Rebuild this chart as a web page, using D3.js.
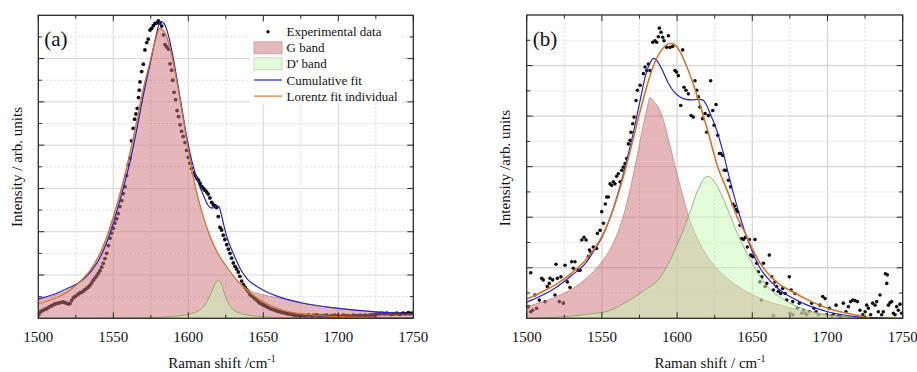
<!DOCTYPE html>
<html>
<head>
<meta charset="utf-8">
<script src="https://cdn.jsdelivr.net/npm/d3@7"></script>
<style>
  body { margin: 0; background: #fff; }
</style>
</head>
<body>
<svg id="chart" width="917" height="372" font-family="'Liberation Serif', 'DejaVu Serif', serif"></svg>
<script>
// ---- shared axis values ----
const xTicks = [1500, 1550, 1600, 1650, 1700, 1750];
const xMinorTicks = [1525, 1575, 1625, 1675, 1725];

// ---- panel (a): experimental points [shift, intensity] ----
const aPoints = [
  [1500.3,0.08],[1501.2,0.14],[1502.3,0.17],[1503.4,0.19],[1504.5,0.21],[1505.6,0.22],[1506.7,0.25],[1507.8,0.27],
  [1508.9,0.29],[1510,0.31],[1511.1,0.33],[1512.2,0.34],[1513.3,0.35],[1514.4,0.36],[1515.6,0.37],[1516.7,0.38],
  [1517.8,0.36],[1518.9,0.35],[1520,0.33],[1521.1,0.34],[1522.2,0.41],[1523.3,0.47],[1524.4,0.5],[1525.6,0.53],
  [1526.7,0.56],[1527.8,0.59],[1528.9,0.6],[1530,0.63],[1531.1,0.66],[1532.2,0.69],[1533.3,0.72],[1534.4,0.76],
  [1535.6,0.82],[1536.7,0.88],[1537.8,0.93],[1538.9,0.98],[1540,1.04],[1541.1,1.1],[1542.2,1.18],[1543.3,1.27],
  [1544.4,1.38],[1545.6,1.5],[1546.7,1.68],[1547.8,1.85],[1548.9,1.97],[1550,2.08],[1551.1,2.2],[1552.2,2.3],
  [1553.3,2.42],[1554.4,2.58],[1555.6,2.72],[1556.7,2.88],[1557.8,3.04],[1558.9,3.3],[1560,3.55],[1561.1,3.7],
  [1562.2,4.1],[1563.3,4.39],[1564.2,4.6],[1565.1,4.72],[1566,4.85],[1566.8,5.1],[1567.3,5.27],[1567.8,5.46],
  [1568.9,5.7],[1570,5.87],[1571.1,6.2],[1572.3,6.37],[1573.3,6.45],[1574.5,6.66],[1575.6,6.7],[1576.7,6.76],
  [1577.8,6.81],[1578.9,6.82],[1580,6.87],[1581.1,6.82],[1582.3,6.75],[1583.4,6.55],[1584.5,6.32],[1585.6,6.27],
  [1586.7,6.22],[1587.8,5.88],[1588.9,5.73],[1589.6,5.5],[1590.5,5.22],[1591.5,5.05],[1592.5,4.8],[1593.5,4.66],
  [1594.5,4.47],[1595.5,4.32],[1596.6,4.2],[1597.8,4.06],[1598.9,3.88],[1600,3.72],[1601.1,3.58],[1602.2,3.46],
  [1603.3,3.36],[1604.4,3.3],[1605.6,3.24],[1606.7,3.19],[1607.8,3.12],[1608.9,3.05],[1610,3.0],[1611.1,2.96],
  [1612.2,2.92],[1613.3,2.87],[1614.4,2.78],[1615.6,2.68],[1616.7,2.62],[1617.8,2.6],[1618.9,2.56],[1620,2.35],
  [1621.1,2.1],[1622.2,2.04],[1623.3,1.92],[1624.4,1.82],[1625.6,1.7],[1626.7,1.6],[1627.8,1.5],[1628.9,1.39],
  [1630,1.28],[1631.1,1.2],[1632.2,1.14],[1633.3,1.07],[1634.4,0.97],[1635.6,0.86],[1636.7,0.78],[1637.8,0.72],
  [1638.9,0.67],[1640,0.62],[1641.1,0.55],[1642.2,0.52],[1643.3,0.49],[1644.4,0.45],[1645.6,0.42],[1646.7,0.38],
  [1647.8,0.35],[1648.9,0.33],[1650,0.31],[1651.1,0.29],[1652.2,0.27],[1653.3,0.25],[1654.4,0.23],[1655.6,0.21],
  [1656.7,0.2],[1657.8,0.19],[1658.9,0.17],[1660,0.16],[1661.1,0.15],[1662.2,0.14],[1663.3,0.13],[1664.4,0.12],
  [1665.6,0.11],[1666.7,0.1],[1667.8,0.1],[1668.9,0.09],[1670,0.08],[1671.1,0.07],[1672.2,0.06],[1673.3,0.07],
  [1674.4,0.05],[1675.6,0.06],[1676.7,0.07],[1677.8,0.05],[1678.9,0.06],[1680,0.08],[1681.1,0.06],[1682.2,0.05],
  [1683.3,0.07],[1684.4,0.06],[1685.6,0.08],[1686.7,0.05],[1687.8,0.06],[1688.9,0.04],[1690,0.06],[1691.1,0.05],
  [1692.2,0.07],[1693.3,0.05],[1694.4,0.04],[1695.6,0.06],[1696.7,0.05],[1697.8,0.07],[1698.9,0.05],[1700,0.06],
  [1701.1,0.04],[1702.2,0.05],[1703.3,0.07],[1704.4,0.06],[1705.6,0.05],[1706.7,0.06],[1707.8,0.04],[1708.9,0.05],
  [1710,0.07],[1711.1,0.05],[1712.2,0.06],[1713.3,0.05],[1714.4,0.07],[1715.6,0.06],[1716.7,0.05],[1717.8,0.07],
  [1718.9,0.06],[1720,0.05],[1721.1,0.07],[1722.2,0.08],[1723.3,0.07],[1724.4,0.09],[1725.6,0.1],[1726.7,0.11],
  [1727.8,0.1],[1728.9,0.12],[1730,0.11],[1731.1,0.1],[1732.2,0.12],[1733.3,0.11],[1734.4,0.1],[1735.6,0.09],
  [1736.7,0.11],[1737.8,0.1],[1738.9,0.12],[1740,0.1],[1741.1,0.09],[1742.2,0.11],[1743.3,0.12],[1744.4,0.1],
  [1745.6,0.11],[1746.7,0.13],[1747.8,0.1],[1748.9,0.12]
];
// fitted curves
const aCumulative = [
  [1500,0.45],[1510,0.55],[1520,0.7],[1527,0.82],[1535,1.08],[1540,1.33],[1545,1.7],[1550,2.2],[1555,2.8],
  [1560,3.45],[1565,4.25],[1570,5.15],[1575,5.95],[1578,6.45],[1581.5,6.86],[1584,6.8],[1587,6.5],[1590,6.0],
  [1595,5.0],[1600,4.0],[1605,3.3],[1610,2.85],[1613,2.62],[1615,2.55],[1617,2.55],[1619,2.6],[1620.5,2.58],
  [1622,2.4],[1624,2.1],[1626,1.85],[1630,1.5],[1635,1.12],[1640,0.88],[1645,0.75],[1650,0.65],[1660,0.5],
  [1675,0.36],[1700,0.23],[1725,0.15],[1750,0.1]
];
const aLorentz = [
  [1500,0.33],[1510,0.45],[1520,0.62],[1527,0.82],[1535,1.13],[1540,1.42],[1545,1.82],[1550,2.35],[1555,2.95],
  [1560,3.65],[1565,4.45],[1570,5.3],[1575,6.0],[1578,6.42],[1581,6.7],[1584,6.62],[1587,6.35],[1590,5.9],
  [1595,4.95],[1600,3.9],[1605,3.0],[1610,2.35],[1615,1.85],[1620,1.48],[1625,1.22],[1632,0.9],[1640,0.63],
  [1648,0.42],[1660,0.22],[1670,0.13],[1685,0.07],[1700,0.04],[1725,0.02],[1750,0.01]
];
const aGBand = [
  [1500,0.42],[1510,0.52],[1520,0.66],[1527,0.82],[1535,1.13],[1540,1.42],[1545,1.82],[1550,2.35],[1555,2.95],
  [1560,3.65],[1565,4.45],[1570,5.3],[1575,6.0],[1578,6.42],[1581,6.7],[1584,6.62],[1587,6.35],[1590,5.9],
  [1595,4.95],[1600,3.9],[1605,3.0],[1610,2.35],[1615,1.85],[1620,1.48],[1625,1.22],[1632,0.9],[1640,0.66],
  [1648,0.56],[1660,0.47],[1675,0.36],[1700,0.23],[1725,0.15],[1750,0.1]
];
const aDBand = [
  [1500,0],[1560,0.005],[1580,0.02],[1592,0.05],[1600,0.09],[1606,0.16],[1610,0.26],[1613,0.42],[1616,0.64],
  [1618,0.8],[1620,0.88],[1622,0.8],[1624,0.58],[1627,0.33],[1630,0.2],[1635,0.11],[1645,0.05],[1660,0.02],
  [1680,0.005],[1750,0]
];

// ---- panel (b): experimental points [shift, intensity] ----
const bPoints = [
  [1502.7,0.9],[1501.1,0.23],[1502.7,0.13],[1504,0.16],[1505.5,0.46],[1506.6,0.2],[1508.4,0.36],[1510,0.79],
  [1511,0.76],[1512.2,0.33],[1513.7,0.63],[1515,0.69],[1515.5,0.79],[1517.3,0.76],[1518.8,0.46],[1519.5,1.07],
  [1520.4,0.79],[1521.7,0.33],[1522.8,0.82],[1524.4,0.3],[1525.5,1.05],[1527,0.72],[1528.8,0.61],[1529.9,1.12],
  [1531,0.99],[1532.1,1.12],[1534.4,0.95],[1535.5,0.95],[1536.6,1.55],[1538.1,1.6],[1539.5,1.55],[1541,1.22],
  [1541.7,1.35],[1542.8,1.3],[1544.3,1.41],[1546.5,1.38],[1547,1.68],[1548.8,1.74],[1549.9,2.11],[1551,1.88],
  [1552.3,2.26],[1553.2,2.4],[1554.3,2.4],[1555.4,2.66],[1556.5,2.63],[1557.6,2.7],[1558.7,2.66],[1559.8,2.81],
  [1560.9,2.86],[1562.1,2.7],[1563.2,2.93],[1564.3,2.99],[1565.4,3.06],[1566.5,3.16],[1567.6,3.45],[1568.7,3.52],
  [1569.4,3.68],[1570.5,3.85],[1571.4,3.98],[1572.7,4.31],[1573.6,4.51],[1575.4,4.61],[1577.6,4.84],[1578.7,4.97],
  [1579.8,4.9],[1580.9,5.03],[1582,4.9],[1583.8,5.46],[1585.3,5.49],[1586.4,5.46],[1587.5,5.57],[1588.2,5.74],
  [1589.3,5.66],[1590.4,5.56],[1591.3,5.49],[1593.1,5.36],[1594.2,5.59],[1595.3,5.36],[1597.1,5.38],[1598.6,4.9],
  [1599.7,4.87],[1600.8,4.8],[1602.4,4.21],[1603.7,5.31],[1604.6,4.57],[1605.9,4.51],[1607.5,4.44],[1609.3,4.01],
  [1610.8,3.98],[1611.9,4.7],[1613,4.51],[1614.1,4.38],[1615.2,4.18],[1617,3.95],[1618.6,4.05],[1619.7,3.68],
  [1620.8,4.01],[1622.3,4.7],[1623.7,4.11],[1624.6,3.82],[1625.9,4.23],[1627,3.62],[1628.1,3.26],[1629,3.26],
  [1630.3,3.22],[1631.4,2.93],[1632.5,2.93],[1634.1,2.73],[1635.6,2.6],[1637,2.26],[1638.1,2.22],[1639.2,2.15],
  [1640.3,2.11],[1641.8,1.84],[1643,1.58],[1644.1,1.56],[1645.4,1.6],[1646.7,1.41],[1648,1.56],[1649,1.25],
  [1650.3,1.22],[1651.8,1.56],[1652.9,1.09],[1654,0.92],[1655.1,0.72],[1656.3,0.82],[1657.4,1.09],[1658.5,0.63],
  [1659.6,0.69],[1661.3,1.25],[1662.9,0.82],[1664,0.56],[1665.1,0.72],[1666.2,0.63],[1667.3,0.53],[1668.9,0.49],
  [1670.2,0.59],[1671.8,0.49],[1672.9,0.36],[1674.6,0.82],[1675.8,0.56],[1676.9,0.33],[1678.4,0.49],[1680,0.2],
  [1681.3,0.3],[1682.8,0.1],[1684,0.16],[1685.1,0.1],[1686.2,0.07],[1687.9,0.13],[1689.5,0.3],[1691,0.2],
  [1692.4,0.13],[1693.9,0.07],[1695,0.26],[1696.8,0.43],[1698.4,0.39],[1699.5,0.07],[1701.2,0.2],[1702.8,0.05],
  [1703.9,0.07],[1705.7,0.26],[1707.2,0.05],[1708.8,0.03],[1710.5,0.3],[1712.3,0.13],[1713.9,0.23],[1715.4,0.33],
  [1716.8,0.36],[1718.3,0.35],[1719.9,0.33],[1721.6,0.16],[1723.4,0.07],[1725,0.13],[1726.1,0.26],[1727.2,0.2],
  [1728.7,0.07],[1730,0.3],[1731.6,0.26],[1732.7,0.33],[1733.8,0.13],[1734.9,0.46],[1736,0.07],[1737.1,0.13],
  [1738.5,0.88],[1739.8,0.86],[1739.4,0.69],[1740.5,0.26],[1741.6,0.31],[1742.7,0.33],[1743.8,0.1],[1744.9,0.07],
  [1746,0.23],[1747.1,0.16],[1748.2,0.28],[1749.3,0.1],[1656,0.36],[1664,0.05],[1675,0.1],[1677,0.07]
];
// fitted curves
const bCumulative = [
  [1500,0.32],[1510,0.45],[1520,0.62],[1530,0.85],[1540,1.12],[1545,1.35],[1550,1.6],[1555,1.95],[1560,2.4],
  [1565,2.95],[1570,3.55],[1575,4.25],[1579,4.8],[1582,5.05],[1584.5,5.14],[1587,5.08],[1590,4.92],[1594,4.66],
  [1598,4.48],[1602,4.38],[1606,4.33],[1610,4.32],[1614,4.33],[1617,4.32],[1619,4.25],[1622,4.05],[1626,3.75],
  [1630,3.35],[1635,2.75],[1640,2.2],[1645,1.72],[1650,1.32],[1655,1.0],[1660,0.8],[1666,0.62],[1672,0.48],
  [1677,0.4],[1685,0.28],[1692,0.2],[1700,0.13],[1710,0.07],[1720,0.03],[1735,0.01],[1750,0]
];
const bLorentz = [
  [1500,0.38],[1510,0.52],[1520,0.68],[1530,0.9],[1540,1.18],[1550,1.62],[1555,1.95],[1560,2.38],[1565,2.88],
  [1570,3.45],[1575,4.05],[1580,4.6],[1585,5.05],[1590,5.32],[1593,5.41],[1596,5.44],[1599,5.4],[1602,5.27],
  [1605,5.08],[1610,4.7],[1614,4.34],[1620,3.75],[1627,3.0],[1633,2.55],[1640,2.0],[1645,1.7],[1650,1.38],
  [1655,1.1],[1660,0.9],[1666,0.72],[1677,0.52],[1690,0.32],[1700,0.2],[1710,0.12],[1720,0.06],[1728,0.01]
];
const bGBand = [
  [1500,0.23],[1510,0.32],[1520,0.43],[1530,0.58],[1540,0.8],[1550,1.12],[1557,1.45],[1563,1.9],[1568,2.45],
  [1573,3.15],[1577,3.75],[1580,4.15],[1582,4.37],[1584,4.3],[1587,4.2],[1590,4.0],[1595,3.45],[1600,2.85],
  [1604,2.4],[1607,2.08],[1614,1.55],[1622,1.15],[1633,0.8],[1645,0.55],[1655,0.4],[1670,0.25],[1688,0.12],
  [1710,0.04],[1730,0.005],[1750,0]
];
const bDBand = [
  [1500,0],[1520,0.02],[1540,0.08],[1555,0.15],[1565,0.3],[1577,0.53],[1589,0.82],[1599,1.38],[1608,2.05],
  [1614,2.55],[1620,2.81],[1626,2.65],[1632,2.28],[1640,1.68],[1650,1.09],[1660,0.63],[1670,0.39],[1680,0.23],
  [1690,0.13],[1700,0.07],[1720,0.02],[1750,0]
];

const legendLabels = ["Experimental data", "G band", "D' band", "Cumulative fit", "Lorentz fit individual"];

const colors = {
  gFill: "rgb(205,112,118)", gEdge: "#c4857f",
  dFill: "rgb(200,250,180)", dEdge: "#79a95a",
  cum: "#2323c8", lor: "#d2762a", dot: "#111"
};

const svg = d3.select("#chart");

function drawPanel(p) {
  const x = d3.scaleLinear().domain([1500, 1750]).range([p.left, p.right]);
  const y = d3.scaleLinear().domain([0, p.yMax]).range([p.bottom, p.top]);
  const g = svg.append("g");
  const yMajor = d3.range(1, p.yMax);
  const yMinor = d3.range(0.5, p.yMax, 1);

  g.append("clipPath").attr("id", "clip-" + p.id)
    .append("rect").attr("x", p.left).attr("y", p.top)
    .attr("width", p.right - p.left).attr("height", p.bottom - p.top);

  // grid
  const grid = g.append("g");
  grid.selectAll(".gxm").data(xMinorTicks).enter().append("line")
    .attr("x1", d => x(d)).attr("x2", d => x(d)).attr("y1", p.top).attr("y2", p.bottom)
    .attr("stroke", "#cfcfcf").attr("stroke-width", 0.8).attr("stroke-dasharray", "2,2");
  grid.selectAll(".gym").data(yMinor).enter().append("line")
    .attr("y1", d => y(d)).attr("y2", d => y(d)).attr("x1", p.left).attr("x2", p.right)
    .attr("stroke", "#cfcfcf").attr("stroke-width", 0.8).attr("stroke-dasharray", "2,2");
  grid.selectAll(".gx").data(xTicks.slice(1, -1)).enter().append("line")
    .attr("x1", d => x(d)).attr("x2", d => x(d)).attr("y1", p.top).attr("y2", p.bottom)
    .attr("stroke", "#d6d6d6").attr("stroke-width", p.gridW);
  grid.selectAll(".gy").data(yMajor).enter().append("line")
    .attr("y1", d => y(d)).attr("y2", d => y(d)).attr("x1", p.left).attr("x2", p.right)
    .attr("stroke", "#d6d6d6").attr("stroke-width", p.gridW);

  const plot = g.append("g").attr("clip-path", "url(#clip-" + p.id + ")");

  // experimental points (fills are laid over them, like the original)
  plot.selectAll(".pt").data(p.points).enter().append("circle")
    .attr("cx", d => x(d[0])).attr("cy", d => y(d[1])).attr("r", p.dotR).attr("fill", colors.dot);

  const area = d3.area().x(d => x(d[0])).y0(y(0)).y1(d => y(d[1])).curve(d3.curveMonotoneX);
  const line = d3.line().x(d => x(d[0])).y(d => y(d[1])).curve(d3.curveMonotoneX);

  plot.append("path").attr("d", area(p.gBand)).attr("fill", colors.gFill).attr("fill-opacity", 0.5);
  plot.append("path").attr("d", line(p.gBand)).attr("fill", "none").attr("stroke", colors.gEdge).attr("stroke-width", 0.8);
  plot.append("path").attr("d", area(p.dBand)).attr("fill", colors.dFill).attr("fill-opacity", 0.5);
  plot.append("path").attr("d", line(p.dBand)).attr("fill", "none").attr("stroke", colors.dEdge).attr("stroke-width", 0.8);

  plot.append("path").attr("d", line(p.cum)).attr("fill", "none").attr("stroke", colors.cum).attr("stroke-width", 1.2);
  plot.append("path").attr("d", line(p.lor)).attr("fill", "none").attr("stroke", colors.lor).attr("stroke-width", p.lorW);

  // frame
  g.append("rect").attr("x", p.left).attr("y", p.top)
    .attr("width", p.right - p.left).attr("height", p.bottom - p.top)
    .attr("fill", "none").attr("stroke", "#2a2a2a").attr("stroke-width", 1.3);

  // inward ticks on all sides
  const ticks = g.append("g").attr("stroke", "#2a2a2a").attr("stroke-width", 1);
  [[xTicks, 6], [xMinorTicks, 3.5]].forEach(([vals, len]) => {
    vals.forEach(v => {
      ticks.append("line").attr("x1", x(v)).attr("x2", x(v)).attr("y1", p.bottom).attr("y2", p.bottom - len);
      ticks.append("line").attr("x1", x(v)).attr("x2", x(v)).attr("y1", p.top).attr("y2", p.top + len);
    });
  });
  [[yMajor, 6], [yMinor, 3.5]].forEach(([vals, len]) => {
    vals.forEach(v => {
      ticks.append("line").attr("y1", y(v)).attr("y2", y(v)).attr("x1", p.left).attr("x2", p.left + len);
      ticks.append("line").attr("y1", y(v)).attr("y2", y(v)).attr("x1", p.right).attr("x2", p.right - len);
    });
  });

  // tick labels
  g.selectAll(".tl").data(xTicks).enter().append("text")
    .attr("x", d => x(d)).attr("y", p.bottom + 24).attr("text-anchor", "middle")
    .attr("font-size", 15).attr("fill", "#111").text(d => d);

  // axis titles
  const xt = g.append("text").attr("x", p.xTitleX).attr("y", 368)
    .attr("text-anchor", "middle").attr("font-size", 15).attr("fill", "#111");
  xt.append("tspan").text(p.xTitle);
  xt.append("tspan").attr("dy", -6).attr("font-size", 10).text("-1");

  g.append("text").attr("transform", `translate(${p.yTitleX},${p.yTitleY}) rotate(-90)`)
    .attr("text-anchor", "middle").attr("dominant-baseline", "central")
    .attr("font-size", 15).attr("fill", "#111").text(p.yTitle);

  g.append("text").attr("x", p.left + 6).attr("y", 46).attr("font-size", 21).attr("fill", "#111").text(p.tag);

  return { x, y, g };
}

drawPanel({
  id: "a", left: 38.3, right: 413.3, top: 15.3, bottom: 318.3, yMax: 7,
  points: aPoints, cum: aCumulative, lor: aLorentz, gBand: aGBand, dBand: aDBand,
  dotR: 1.9, lorW: 1.2, gridW: 1,
  xTitle: "Raman shift /cm", xTitleX: 222, yTitle: "Intensity / arb. units", yTitleX: 17, yTitleY: 167, tag: "(a)"
});
drawPanel({
  id: "b", left: 526.7, right: 902.7, top: 15, bottom: 318.3, yMax: 6,
  points: bPoints, cum: bCumulative, lor: bLorentz, gBand: bGBand, dBand: bDBand,
  dotR: 1.8, lorW: 1.6, gridW: 1.3,
  xTitle: "Raman shift / cm", xTitleX: 710, yTitle: "Intensity /arb. units", yTitleX: 505, yTitleY: 168, tag: "(b)"
});

// legend in panel (a)
const lg = svg.append("g");
lg.append("rect").attr("x", 250).attr("y", 22).attr("width", 152).attr("height", 82).attr("fill", "#fff");
const rowY = i => 31.7 + i * 16.1;
lg.append("circle").attr("cx", 268).attr("cy", rowY(0)).attr("r", 1.7).attr("fill", colors.dot);
lg.append("rect").attr("x", 254).attr("y", rowY(1) - 6).attr("width", 28).attr("height", 12)
  .attr("fill", colors.gFill).attr("fill-opacity", 0.5).attr("stroke", "#c49a9a").attr("stroke-width", 0.8);
lg.append("rect").attr("x", 254).attr("y", rowY(2) - 6).attr("width", 28).attr("height", 12)
  .attr("fill", colors.dFill).attr("fill-opacity", 0.5).attr("stroke", "#b5d4a8").attr("stroke-width", 0.8);
lg.append("line").attr("x1", 254).attr("x2", 282).attr("y1", rowY(3)).attr("y2", rowY(3))
  .attr("stroke", colors.cum).attr("stroke-width", 1.2);
lg.append("line").attr("x1", 254).attr("x2", 282).attr("y1", rowY(4)).attr("y2", rowY(4))
  .attr("stroke", colors.lor).attr("stroke-width", 1.2);
lg.selectAll(".lt").data(legendLabels).enter().append("text")
  .attr("x", 286.5).attr("y", (d, i) => rowY(i)).attr("dominant-baseline", "central")
  .attr("font-size", 13).attr("fill", "#111").text(d => d);
</script>
</body>
</html>
